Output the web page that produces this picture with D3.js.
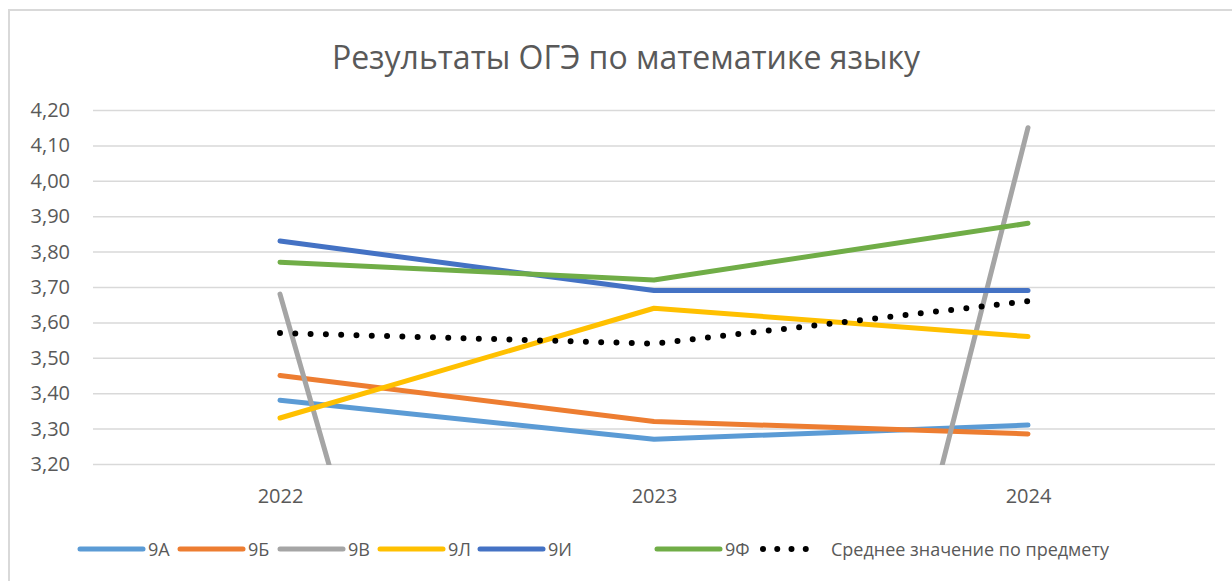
<!DOCTYPE html>
<html>
<head>
<meta charset="utf-8">
<script src="https://cdn.jsdelivr.net/npm/d3@7"></script>
<style>
  body { margin: 0; background: #fff; }
  text { font-family: "Open Sans", "Noto Sans", sans-serif; fill: #595959; }
</style>
</head>
<body>
<div id="chart"></div>
<script>
// data
var years = ["2022", "2023", "2024"];
var seriesNames = ["9А", "9Б", "9В", "9Л", "9И", "9Ф", "Среднее значение по предмету"];
var v9A = [3.38, 3.27, 3.31];
var v9B = [3.45, 3.32, 3.285];
var v9V = [3.68, 0, 4.15];
var v9L = [3.33, 3.64, 3.56];
var v9I = [3.83, 3.69, 3.69];
var v9F = [3.77, 3.72, 3.88];
var vAvg = [3.57, 3.54, 3.66];
var yTicks = [3.2, 3.3, 3.4, 3.5, 3.6, 3.7, 3.8, 3.9, 4.0, 4.1, 4.2];

var colors = ["#5b9bd5", "#ed7d31", "#a5a5a5", "#ffc000", "#4472c4", "#70ad47", "#000000"];
var allValues = [v9A, v9B, v9V, v9L, v9I, v9F, vAvg];

var series = seriesNames.map(function(n, i) {
  return {name: n, values: allValues[i], color: colors[i], dotted: i === 6};
});

var W = 1232, H = 581;
var margin = {top: 110, left: 93, right: 17, bottom: 117};
var innerW = W - margin.left - margin.right,
    innerH = H - margin.top - margin.bottom;

var svg = d3.select("#chart").append("svg")
  .attr("width", W)
  .attr("height", H);

// chart frame
svg.append("rect")
  .attr("x", 9).attr("y", 10)
  .attr("width", W + 20).attr("height", H + 20)
  .attr("fill", "none")
  .attr("stroke", "#d9d9d9")
  .attr("stroke-width", 2);

svg.append("text")
  .attr("x", 626).attr("y", 69)
  .attr("text-anchor", "middle")
  .attr("font-size", 32)
  .text("Результаты ОГЭ по математике языку");

var g = svg.append("g")
  .attr("transform", "translate(" + margin.left + "," + margin.top + ")");

var x = d3.scalePoint()
  .domain(years)
  .range([0, innerW])
  .padding(0.5);

var y = d3.scaleLinear()
  .domain([3.2, 4.2])
  .range([innerH, 0]);

var fmt = d3.formatLocale({decimal: ",", thousands: " ", grouping: [3], currency: ["", ""]}).format(".2f");

// Y axis + gridlines
var yAxis = g.append("g")
  .call(d3.axisLeft(y).tickValues(yTicks).tickSize(-innerW).tickFormat(fmt).tickPadding(23));
yAxis.select(".domain").remove();
yAxis.selectAll(".tick line").attr("stroke", "#d9d9d9").attr("stroke-width", 1.5);
yAxis.selectAll(".tick text").attr("font-size", 20).attr("fill", "#595959");

// X axis
var xAxis = g.append("g")
  .attr("transform", "translate(0," + innerH + ")")
  .call(d3.axisBottom(x).tickSize(0).tickPadding(25));
xAxis.select(".domain").remove();
xAxis.selectAll(".tick text").attr("font-size", 20).attr("fill", "#595959");

g.append("clipPath").attr("id", "plot-clip")
  .append("rect")
  .attr("x", -5).attr("y", -10)
  .attr("width", innerW + 10).attr("height", innerH + 11);

var line = d3.line()
  .x(function(d, i) { return x(years[i]); })
  .y(function(d) { return y(d); });

var lines = g.append("g").attr("clip-path", "url(#plot-clip)");

lines.selectAll("path")
  .data(series)
  .enter().append("path")
  .attr("fill", "none")
  .attr("stroke", function(d) { return d.color; })
  .attr("stroke-width", function(d) { return d.dotted ? 6 : 5; })
  .attr("stroke-linecap", "round")
  .attr("stroke-linejoin", "round")
  .attr("stroke-dasharray", function(d) { return d.dotted ? "0 15.3" : null; })
  .attr("d", function(d) { return line(d.values); });

// legend
var legendX = [80, 180, 280, 380, 480, 657, 763];
var legend = svg.append("g").attr("transform", "translate(0,549)");
var item = legend.selectAll("g")
  .data(series)
  .enter().append("g")
  .attr("transform", function(d, i) { return "translate(" + legendX[i] + ",0)"; });

item.append("line")
  .attr("x1", 0).attr("x2", function(d) { return d.dotted ? 57 : 63; })
  .attr("y1", 0).attr("y2", 0)
  .attr("stroke", function(d) { return d.color; })
  .attr("stroke-width", function(d) { return d.dotted ? 6 : 5; })
  .attr("stroke-linecap", "round")
  .attr("stroke-dasharray", function(d) { return d.dotted ? "0 14.25" : null; });

item.append("text")
  .attr("x", 68)
  .attr("y", 7)
  .attr("font-size", 18)
  .text(function(d) { return d.name; });
</script>
</body>
</html>
